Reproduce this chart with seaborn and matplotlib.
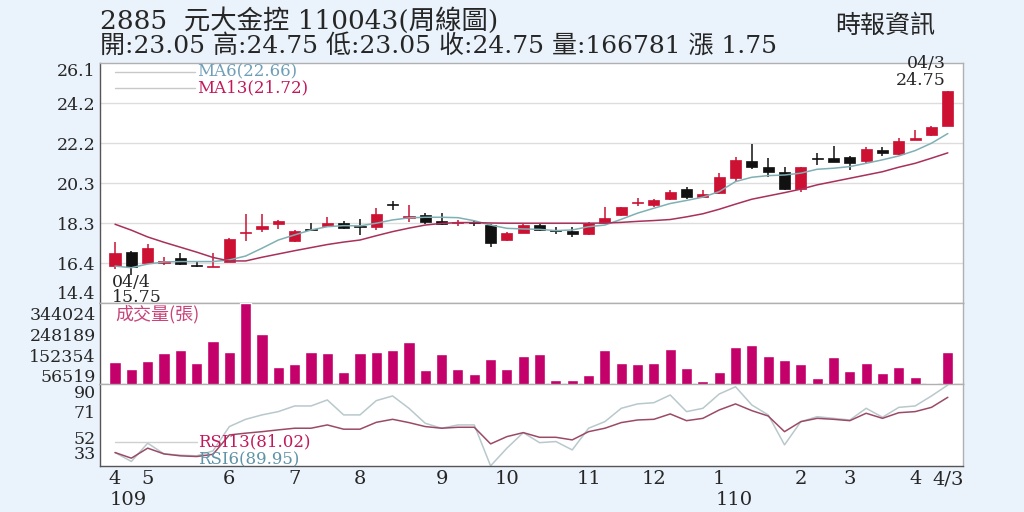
import numpy as np
import pandas as pd
import matplotlib
matplotlib.use("Agg")
import matplotlib.pyplot as plt
import seaborn as sns

# weekly data, 2885 元大金控 (109/04 ~ 110/04/03)
weeks = list(range(52))
opens = [16.20, 16.90, 16.37, 16.37, 16.61, 16.24, 16.17, 16.41, 17.82, 17.99,
         18.25, 17.42, 18.03, 18.16, 18.32, 18.14, 18.12, 19.20, 18.55, 18.71,
         18.42, 18.30, 18.34, 18.20, 17.47, 17.83, 18.20, 17.95, 17.93, 17.77,
         18.32, 18.69, 19.29, 19.18, 19.46, 19.96, 19.59, 19.75, 20.48, 21.34,
         21.02, 20.78, 19.95, 21.44, 21.49, 21.54, 21.33, 21.86, 21.67, 22.35,
         22.60, 23.05]
highs = [17.39, 16.94, 17.28, 16.66, 16.85, 16.46, 16.82, 17.56, 18.74, 18.74,
         18.45, 17.96, 18.32, 18.58, 18.40, 18.48, 19.02, 19.39, 19.18, 18.78,
         18.78, 18.45, 18.45, 18.24, 17.88, 18.25, 18.25, 18.12, 18.12, 18.37,
         19.07, 19.10, 19.51, 19.46, 19.91, 20.04, 19.91, 20.73, 21.51, 22.16,
         21.46, 21.05, 21.05, 21.73, 22.06, 21.57, 22.02, 22.02, 22.43, 22.84,
         23.05, 24.75]
lows = [16.04, 15.75, 16.30, 16.27, 16.24, 16.17, 16.14, 16.40, 17.44, 17.88,
        18.02, 17.39, 17.93, 18.12, 18.01, 17.72, 17.96, 18.94, 18.34, 18.25,
        18.20, 18.16, 18.16, 17.15, 17.44, 17.80, 17.91, 17.75, 17.60, 17.72,
        18.29, 18.66, 19.13, 19.10, 19.42, 19.46, 19.56, 19.72, 20.32, 20.92,
        20.56, 19.91, 19.83, 21.13, 21.26, 20.89, 21.21, 21.57, 21.62, 22.35,
        22.55, 23.05]
closes = [16.85, 16.14, 17.10, 16.43, 16.29, 16.18, 16.22, 17.51, 17.87, 18.17,
          18.40, 17.91, 17.98, 18.32, 18.04, 18.10, 18.74, 19.16, 18.62, 18.34,
          18.25, 18.34, 18.30, 17.34, 17.80, 18.20, 17.96, 17.91, 17.77, 18.32,
          18.53, 19.07, 19.33, 19.42, 19.83, 19.59, 19.72, 20.56, 21.38, 21.05,
          20.80, 19.96, 21.02, 21.40, 21.29, 21.24, 21.91, 21.70, 22.30, 22.43,
          23.00, 24.75]
ma6 = [16.20, 16.12, 16.30, 16.40, 16.42, 16.42, 16.42, 16.50, 16.69, 17.07,
       17.47, 17.72, 17.96, 18.12, 18.17, 18.16, 18.29, 18.45, 18.55, 18.58,
       18.58, 18.56, 18.41, 18.20, 18.04, 18.01, 17.99, 17.93, 17.96, 18.12,
       18.20, 18.48, 18.78, 19.02, 19.25, 19.40, 19.56, 19.83, 20.32, 20.53,
       20.61, 20.64, 20.73, 20.92, 20.97, 21.05, 21.21, 21.38, 21.57, 21.83,
       22.19, 22.66]
ma13 = [18.24, 17.95, 17.62, 17.36, 17.12, 16.88, 16.62, 16.45, 16.45, 16.63,
        16.79, 16.95, 17.10, 17.25, 17.37, 17.47, 17.68, 17.88, 18.05, 18.20,
        18.28, 18.32, 18.32, 18.30, 18.29, 18.29, 18.29, 18.29, 18.29, 18.29,
        18.30, 18.33, 18.38, 18.42, 18.47, 18.60, 18.75, 18.97, 19.22, 19.46,
        19.62, 19.78, 19.95, 20.16, 20.32, 20.48, 20.64, 20.80, 21.02, 21.21,
        21.46, 21.72]
volumes = [121800, 88050, 125200, 163200, 177500, 114200, 219700, 165700, 394000, 251800,
           95650, 110000, 168200, 163200, 72000, 159800, 165700, 177500, 213800, 82100,
           155600, 85500, 63600, 133600, 85500, 146300, 155600, 36600, 34900, 57700,
           177500, 114200, 110000, 114200, 180000, 93100, 31500, 72000, 191900, 201100,
           148000, 127700, 110800, 45900, 142900, 77900, 114200, 68600, 99000, 51800,
           23900, 166781]
rsi6 = [40.8, 34.3, 47.6, 39.8, 38.9, 38.4, 42.0, 59.7, 65.0, 68.2,
        70.6, 74.7, 74.7, 79.1, 68.2, 68.2, 78.6, 82.0, 73.0, 62.1,
        58.5, 60.9, 60.9, 31.1, 44.0, 55.3, 48.0, 48.8, 42.7, 58.5,
        63.3, 73.0, 76.2, 77.1, 82.7, 70.6, 73.0, 83.4, 88.7, 75.4,
        68.2, 46.4, 63.3, 66.9, 65.7, 64.5, 73.0, 66.5, 73.7, 74.7,
        82.0, 89.95]
rsi13 = [40.8, 36.7, 44.0, 39.8, 38.4, 37.9, 39.5, 53.6, 54.9, 56.0,
         57.3, 58.5, 58.5, 60.9, 57.8, 57.8, 62.8, 65.0, 62.6, 59.7,
         58.5, 59.2, 59.2, 47.1, 52.4, 55.3, 51.9, 51.9, 50.0, 56.0,
         58.5, 62.6, 64.5, 65.0, 68.9, 64.0, 65.7, 71.8, 76.2, 71.3,
         67.4, 56.0, 63.3, 65.7, 65.0, 64.0, 69.4, 65.7, 69.8, 70.6,
         73.7, 81.02]

month_pos = [0, 2, 7, 11, 15, 20, 24, 29, 33, 37, 42, 45, 49, 51]
month_labels = ['4', '5', '6', '7', '8', '9', '10', '11', '12', '1', '2', '3', '4', '4/3']
price_ticks = [14.4, 16.35, 18.3, 20.25, 22.2, 24.15, 26.1]
price_labels = ['14.4', '16.4', '18.3', '20.3', '22.2', '24.2', '26.1']
vol_ticks = [56519, 152354, 248189, 344024]
rsi_ticks = [33, 52, 71, 90]

df = pd.DataFrame({'week': weeks, 'open': opens, 'high': highs, 'low': lows,
                   'close': closes, 'ma6': ma6, 'ma13': ma13, 'vol': volumes,
                   'rsi6': rsi6, 'rsi13': rsi13})

sns.set_style("white")
SERIF = ['DejaVu Serif', 'Noto Sans CJK TC']
plt.rcParams['font.family'] = SERIF

BG = '#eaf2fb'
RED = '#cc1133'
MAG = '#c4006b'

fig = plt.figure(figsize=(10.24, 5.12), dpi=100, facecolor=BG)
L, W = 100/1024, 863/1024
ax_p = fig.add_axes([L, 1-303/512, W, 240/512])
ax_v = fig.add_axes([L, 1-384/512, W, 81/512])
ax_r = fig.add_axes([L, 1-466/512, W, 82/512])
xlim = (-0.92, 51.93)

for ax in (ax_p, ax_v, ax_r):
    ax.set_facecolor('white')
    ax.set_xlim(*xlim)
    for s in ax.spines.values():
        s.set_color('#b0b0b0')
        s.set_linewidth(1.0)
    ax.spines['left'].set_color('#555555')
    ax.tick_params(axis='y', length=0, labelsize=12.5, pad=3)

# ---- price panel ----
ax_p.set_ylim(14.4, 26.1)
for t in price_ticks[1:-1]:
    ax_p.axhline(t, color='#dddddd', lw=1, zorder=0)
up = df['close'] >= df['open']
colors = np.where(up, RED, '#111111')
body_lo = np.minimum(df['open'], df['close'])
body_h = np.maximum(np.abs(df['close'] - df['open']), 0.05)
ax_p.vlines(df['week'], df['low'], df['high'], colors=colors, lw=1.1, zorder=2)
ax_p.bar(df['week'], body_h, bottom=body_lo, width=0.68, color=colors,
         edgecolor=colors, lw=0.5, zorder=3)
sns.lineplot(data=df, x='week', y='ma6', color='#7fb0b4', lw=1.1, ax=ax_p, zorder=4)
sns.lineplot(data=df, x='week', y='ma13', color='#a8305a', lw=1.1, ax=ax_p, zorder=4)
ax_p.set_yticks(price_ticks)
ax_p.set_yticklabels(price_labels)
labs = ax_p.get_yticklabels()
labs[0].set_va('bottom')
labs[-1].set_va('top')
ax_p.set_xticks([])
ax_p.set_xlabel('')
ax_p.set_ylabel('')

ax_p.plot([0, 4.9], [25.67, 25.67], color='#c8c8c8', lw=1)
ax_p.plot([0, 4.9], [24.89, 24.89], color='#c8c8c8', lw=1)
ax_p.text(5.0, 25.67, 'MA6(22.66)', color='#6f9fb8', fontsize=12, va='center')
ax_p.text(5.0, 24.89, 'MA13(21.72)', color='#c2185b', fontsize=12, va='center')
ax_p.text(50.9, 26.08, '04/3', fontsize=12.5, ha='right', va='center')
ax_p.text(50.9, 25.24, '24.75', fontsize=12.5, ha='right', va='center')
ax_p.text(-0.2, 15.42, '04/4', fontsize=12.5, ha='left', va='center')
ax_p.text(-0.2, 14.66, '15.75', fontsize=12.5, ha='left', va='center', zorder=6)

# ---- volume panel ----
sns.barplot(data=df, x='week', y='vol', color=MAG, width=0.68, native_scale=True,
            saturation=1, ax=ax_v, zorder=3)
ax_v.set_xlim(*xlim)
ax_v.set_ylim(18000, 394000)
ax_v.set_yticks(vol_ticks)
ax_v.set_yticklabels([str(v) for v in vol_ticks])
ax_v.set_xticks([])
ax_v.set_xlabel('')
ax_v.set_ylabel('')
ax_v.text(0, 0.86, '成交量(張)', transform=ax_v.get_xaxis_transform(),
          color='#c8447a', fontsize=13, va='center', family=['Noto Sans CJK TC'])

# ---- RSI panel ----
ax_r.set_ylim(31.0, 90.7)
sns.lineplot(data=df, x='week', y='rsi6', color='#b8c8cc', lw=1.1, ax=ax_r)
sns.lineplot(data=df, x='week', y='rsi13', color='#9b4a66', lw=1.1, ax=ax_r)
ax_r.plot([0, 5.0], [48.6, 48.6], color='#d0d0d0', lw=1)
ax_r.text(5.1, 48.6, 'RSI13(81.02)', color='#c2185b', fontsize=12, va='center')
ax_r.text(5.1, 35.6, 'RSI6(89.95)', color='#5e93a8', fontsize=12, va='center')
ax_r.set_yticks(rsi_ticks)
ax_r.set_yticklabels([str(v) for v in rsi_ticks])
rl = ax_r.get_yticklabels()
rl[-1].set_va('top')
rl[0].set_va('bottom')
ax_r.spines['bottom'].set_color('#555555')
ax_r.set_xticks(month_pos)
ax_r.set_xticklabels(month_labels, fontsize=14)
ax_r.set_xticks(weeks, minor=True)
ax_r.tick_params(axis='x', which='major', length=3, direction='in', pad=3, color='#555555')
ax_r.tick_params(axis='x', which='minor', length=2, direction='in', color='#777777')
ax_r.set_xlabel('')
ax_r.set_ylabel('')
yr = ax_r.get_xaxis_transform()
ax_r.text(-0.3, -0.42, '109', transform=yr, fontsize=14, ha='left', va='center')
ax_r.text(36.8, -0.42, '110', transform=yr, fontsize=14, ha='left', va='center')

# ---- header ----
fig.text(100/1024, 1-21/512, '2885  元大金控 110043(周線圖)', fontsize=19, va='center')
fig.text(100/1024, 1-46/512, '開:23.05 高:24.75 低:23.05 收:24.75 量:166781 漲 1.75',
         fontsize=18, va='center')
fig.text(935/1024, 1-26/512, '時報資訊', fontsize=18, ha='right', va='center',
         family=['Noto Sans CJK TC'])

fig.savefig('out.png', dpi=100, facecolor=BG)
